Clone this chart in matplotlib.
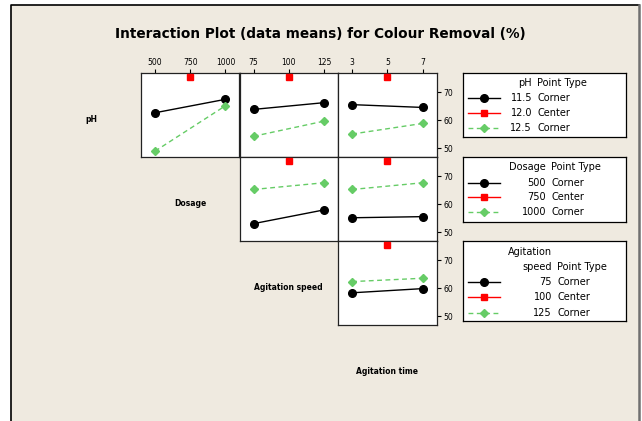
import matplotlib
matplotlib.use('Agg')
import matplotlib.pyplot as plt
from matplotlib.lines import Line2D
from matplotlib.patches import Rectangle

W, H = 642, 421

# factor levels (low, center, high)
ph_levels = [11.5, 12.0, 12.5]
dosage_levels = [500, 750, 1000]
speed_levels = [75, 100, 125]
time_levels = [3, 5, 7]

# corner means: row factor at low / high level, across the column factor
ph_dosage_low = [62.6, 67.4]
ph_dosage_high = [48.9, 65.1]
ph_speed_low = [63.8, 66.2]
ph_speed_high = [54.2, 59.6]
ph_time_low = [65.5, 64.5]
ph_time_high = [55.0, 58.8]
dosage_speed_low = [53.0, 57.9]
dosage_speed_high = [65.2, 67.6]
dosage_time_low = [55.1, 55.5]
dosage_time_high = [65.2, 67.6]
speed_time_low = [58.3, 59.8]
speed_time_high = [62.3, 63.5]
center_mean = 75.5

row_names = ['pH', 'Dosage', 'Agitation speed']
col_names = ['Dosage', 'Agitation speed', 'Agitation time']
col_levels = [dosage_levels, speed_levels, time_levels]
row_levels = [ph_levels, dosage_levels, speed_levels]
y_ticks = [50, 60, 70]

panels = {
    (0, 0): (ph_dosage_low, ph_dosage_high),
    (0, 1): (ph_speed_low, ph_speed_high),
    (0, 2): (ph_time_low, ph_time_high),
    (1, 1): (dosage_speed_low, dosage_speed_high),
    (1, 2): (dosage_time_low, dosage_time_high),
    (2, 2): (speed_time_low, speed_time_high),
}

BG = '#efeae0'
GREEN = '#66cc66'

fig = plt.figure(figsize=(W / 100, H / 100), dpi=100)
fig.patch.set_facecolor('white')


def fx(x):
    return x / W


def fy(y):
    return 1 - y / H


def px_axes(x0, y0, x1, y1):
    return fig.add_axes([fx(x0), fy(y1), (x1 - x0) / W, (y1 - y0) / H])


# beige frame of the graph window
fig.add_artist(Rectangle((fx(11.5), 0), fx(638.5) - fx(11.5), fy(5), transform=fig.transFigure,
                         facecolor=BG, edgecolor='none', zorder=-5))
fig.add_artist(Line2D([fx(11.5), fx(11.5), fx(638.5)], [0, fy(5), fy(5)],
                      transform=fig.transFigure, color='black', lw=1.2))
fig.add_artist(Line2D([fx(638.5), fx(638.5)], [0, fy(5)],
                      transform=fig.transFigure, color='#707070', lw=1.8))

fig.text(fx(320), fy(34), 'Interaction Plot (data means) for Colour Removal (%)',
         ha='center', va='center', fontsize=9.8, fontweight='bold')

col_x = [141, 239.5, 338, 437]
row_y = [73, 157, 241, 325]

for (r, c), (low, high) in panels.items():
    ax = px_axes(col_x[c], row_y[r], col_x[c + 1], row_y[r + 1])
    lv = col_levels[c]
    span = lv[2] - lv[0]
    xs = [lv[0], lv[2]]
    ax.plot(xs, low, color='black', lw=1, marker='o', ms=5.5, zorder=3)
    ax.plot(xs, high, color=GREEN, lw=1, ls='--', dashes=(3.5, 2.5), marker='D', ms=4.5, zorder=3)
    ax.plot([lv[1]], [center_mean], 's', color='red', ms=4.2, clip_on=False, zorder=3)
    ax.set_xlim(lv[0] - 0.2 * span, lv[2] + 0.2 * span)
    ax.set_ylim(46.8, 76.8)
    for s in ax.spines.values():
        s.set_linewidth(0.9)
        s.set_color('#222222')
    if r == 0:
        ax.xaxis.tick_top()
        ax.set_xticks(lv)
        ax.set_xticklabels([str(v) for v in lv])
        ax.tick_params(axis='x', labelsize=5.5, length=3, width=0.8, pad=1.5)
    else:
        ax.set_xticks([])
    if c == 2:
        ax.yaxis.tick_right()
        ax.set_yticks(y_ticks)
        ax.tick_params(axis='y', labelsize=5.5, length=3, width=0.8, pad=1.5)
    else:
        ax.set_yticks([])

# factor names on the diagonal cells
for i, name in enumerate(row_names + ['Agitation time']):
    cx = (col_x[i] + col_x[i] - 98.7) / 2 if i == 0 else (col_x[i - 1] + col_x[i]) / 2
    cy = (row_y[i] + row_y[i + 1]) / 2 + 4 if i < 3 else row_y[3] + 46
    fig.text(fx(cx), fy(cy), name, ha='center', va='center', fontsize=5.5, fontweight='bold')


def legend_box(y0, y1, header, values, val_x, head_y, row_ys, header2=None):
    ax = px_axes(463, y0, 626, y1)
    ax.set_xlim(0, 163)
    ax.set_ylim(y1 - y0, 0)
    ax.set_xticks([])
    ax.set_yticks([])
    for s in ax.spines.values():
        s.set_linewidth(0.9)
    if header2 is not None:
        ax.text(45, header2, header, ha='left', va='center', fontsize=7)
        ax.text(val_x, head_y, 'speed', ha='right', va='center', fontsize=7)
    else:
        ax.text(val_x, head_y, header, ha='right', va='center', fontsize=7)
    ax.text(val_x + 5, head_y, 'Point Type', ha='left', va='center', fontsize=7)
    styles = [dict(color='black', marker='o', ms=5.5, ls='-'),
              dict(color='red', marker='s', ms=4.5, ls='-'),
              dict(color=GREEN, marker='D', ms=4.5, ls='--', dashes=(3.5, 2.5))]
    kinds = ['Corner', 'Center', 'Corner']
    for v, k, yy, st in zip(values, kinds, row_ys, styles):
        ax.plot([5, 37], [yy, yy], lw=1, **st, markevery=[])
        ax.plot([21], [yy], **{k2: v2 for k2, v2 in st.items() if k2 in ('color', 'marker', 'ms')})
        ax.text(val_x, yy, str(v), ha='right', va='center', fontsize=7)
        ax.text(val_x + 5, yy, k, ha='left', va='center', fontsize=7)


legend_box(73.3, 137.3, 'pH', ph_levels, 69, 10, [25, 39.5, 55])
legend_box(156.7, 221.7, 'Dosage', dosage_levels, 83, 10.6, [26.6, 40.6, 55.6])
legend_box(241, 321, 'Agitation', speed_levels, 89, 26.3, [41.3, 56, 71.5], header2=10.7)

fig.savefig('out.png', dpi=100, facecolor=fig.get_facecolor())
